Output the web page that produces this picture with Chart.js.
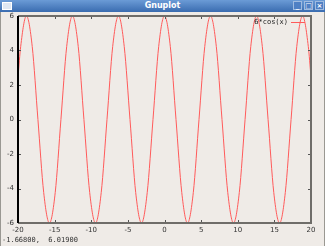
<!DOCTYPE html>
<html>
<head>
<meta charset="utf-8">
<script src="https://cdn.jsdelivr.net/npm/chart.js@4"></script>
<style>
  html, body { margin: 0; padding: 0; }
  body { width: 325px; height: 246px; background: #efebe7; position: relative; overflow: hidden; font-family: "DejaVu Sans", sans-serif; }
  #titulo { position: absolute; left: 0; top: 0; width: 325px; height: 12px; background: linear-gradient(#6b9bd6, #3a6cb0); color: #fff; font: bold 8px "DejaVu Sans", sans-serif; text-align: center; line-height: 12px; }
  #icono { position: absolute; left: 2px; top: 2px; width: 8px; height: 6px; border: 1px solid #fff; background: #dfe7f2; }
  .boton { position: absolute; top: 1px; width: 9px; height: 9px; border: 1px solid #9fbbe0; background: #4f80c4; box-sizing: border-box; color: #fff; font: bold 7px "DejaVu Sans", sans-serif; line-height: 8px; text-align: center; }
  #marco { position: absolute; left: 0; top: 12px; width: 1px; height: 234px; background: #9a9892; }
  #marcoDer { position: absolute; right: 0; top: 12px; width: 1px; height: 234px; background: #9a9892; }
  #lienzo { position: absolute; left: 0; top: 0; }
  #estado { position: absolute; left: 2px; top: 236px; font: 7px "DejaVu Sans Mono", monospace; color: #333; }
</style>
</head>
<body>
<canvas id="grafica" width="325" height="246"></canvas>
<div id="titulo">Gnuplot<div id="icono"></div>
  <div class="boton" style="left:293px">_</div>
  <div class="boton" style="left:304px">□</div>
  <div class="boton" style="left:315px">×</div>
</div>
<div id="marco"></div>
<div id="marcoDer"></div>
<div id="estado">-1.66800,&nbsp; 6.01900</div>
<script>
// valores (x, y) para 6*cos(x)
const valoresX = [-20, -19.63, -18.85, -18.06, -17.28, -16.49, -15.71, -14.92, -14.14, -13.35, -12.57,
  -11.78, -11.00, -10.21, -9.42, -8.64, -7.85, -7.07, -6.28, -5.50, -4.71, -3.93, -3.14, -2.36, -1.57, -0.79,
  0, 0.79, 1.57, 2.36, 3.14, 3.93, 4.71, 5.50, 6.28, 7.07, 7.85, 8.64, 9.42, 10.21, 11.00, 11.78,
  12.57, 13.35, 14.14, 14.92, 15.71, 16.49, 17.28, 18.06, 18.85, 19.63, 20]
const valoresY = [2.45, 4.24, 6, 4.24, 0, -4.24, -6, -4.24, 0, 4.24, 6,
  4.24, 0, -4.24, -6, -4.24, 0, 4.24, 6, 4.24, 0, -4.24, -6, -4.24, 0, 4.24,
  6, 4.24, 0, -4.24, -6, -4.24, 0, 4.24, 6, 4.24, 0, -4.24, -6, -4.24, 0, 4.24,
  6, 4.24, 0, -4.24, -6, -4.24, 0, 4.24, 6, 4.24, 2.45]
const etiquetaSerie = "6*cos(x)"
const ticksX = [-20, -15, -10, -5, 0, 5, 10, 15, 20]
const ticksY = [-6, -4, -2, 0, 2, 4, 6]

const colorCurva = '#ff5a5a'

// marco, marcas y leyenda al estilo gnuplot
const estiloGnuplot = {
  id: 'estiloGnuplot',
  afterDraw(chart) {
    const { ctx, chartArea: a, scales } = chart
    ctx.save()
    // marcas hacia dentro
    ctx.strokeStyle = '#555'
    ctx.lineWidth = 1
    ticksX.forEach((v) => {
      const px = Math.round(scales.x.getPixelForValue(v)) + 0.5
      ctx.beginPath(); ctx.moveTo(px, a.bottom); ctx.lineTo(px, a.bottom - 3); ctx.stroke()
      ctx.beginPath(); ctx.moveTo(px, a.top); ctx.lineTo(px, a.top + 3); ctx.stroke()
    })
    ticksY.forEach((v) => {
      const py = Math.round(scales.y.getPixelForValue(v)) + 0.5
      ctx.beginPath(); ctx.moveTo(a.left, py); ctx.lineTo(a.left + 3, py); ctx.stroke()
      ctx.beginPath(); ctx.moveTo(a.right, py); ctx.lineTo(a.right - 3, py); ctx.stroke()
    })
    // borde
    ctx.strokeStyle = '#6f6d69'
    ctx.lineWidth = 2
    ctx.beginPath()
    ctx.moveTo(a.left, a.top); ctx.lineTo(a.right, a.top); ctx.lineTo(a.right, a.bottom); ctx.lineTo(a.left, a.bottom)
    ctx.stroke()
    ctx.strokeStyle = '#000'
    ctx.beginPath(); ctx.moveTo(a.left, a.top); ctx.lineTo(a.left, a.bottom); ctx.stroke()
    // leyenda
    ctx.fillStyle = '#222'
    ctx.font = '7px "DejaVu Sans Mono", monospace'
    ctx.textAlign = 'right'
    ctx.textBaseline = 'middle'
    ctx.fillText(etiquetaSerie, a.right - 23, a.top + 6)
    ctx.strokeStyle = colorCurva
    ctx.lineWidth = 1
    ctx.beginPath(); ctx.moveTo(a.right - 20, a.top + 6.5); ctx.lineTo(a.right - 6, a.top + 6.5); ctx.stroke()
    ctx.restore()
  }
}

new Chart(document.getElementById('grafica'), {
  type: 'line',
  data: {
    datasets: [{
      label: etiquetaSerie,
      data: valoresX.map((x, i) => ({ x: x, y: valoresY[i] })),
      borderColor: colorCurva,
      borderWidth: 1,
      pointRadius: 0,
      cubicInterpolationMode: 'monotone',
      fill: false
    }]
  },
  options: {
    responsive: false,
    animation: false,
    layout: { padding: { top: 16, right: 14, bottom: 0, left: 0 } },
    plugins: { legend: { display: false }, tooltip: { enabled: false } },
    scales: {
      x: {
        type: 'linear', min: -20, max: 20,
        afterFit: (s) => { s.height = 23 },
        afterBuildTicks: (s) => { s.ticks = ticksX.map((v) => ({ value: v })) },
        grid: { display: false, drawTicks: false }, border: { display: false },
        ticks: { color: '#333', padding: 3, font: { size: 7, family: 'DejaVu Sans' }, maxRotation: 0 }
      },
      y: {
        min: -6, max: 6,
        afterFit: (s) => { s.width = 18 },
        afterBuildTicks: (s) => { s.ticks = ticksY.map((v) => ({ value: v })) },
        grid: { display: false, drawTicks: false }, border: { display: false },
        ticks: { color: '#333', padding: 4, font: { size: 7, family: 'DejaVu Sans' } }
      }
    }
  },
  plugins: [estiloGnuplot]
})
</script>
</body>
</html>
